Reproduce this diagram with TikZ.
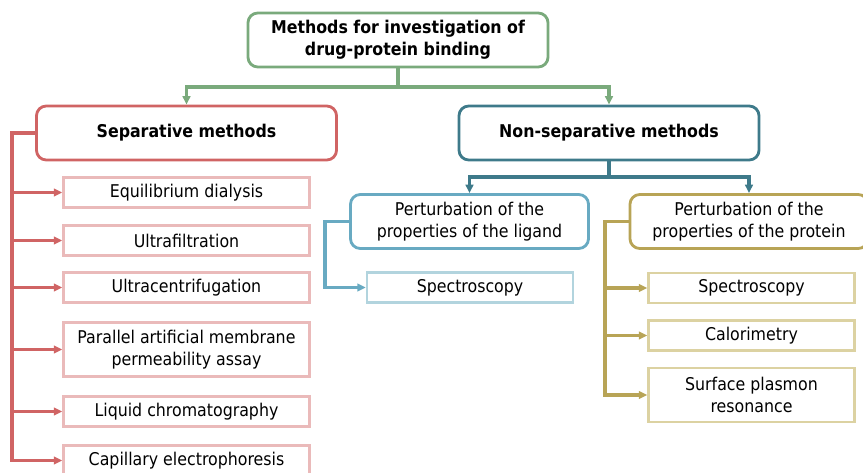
\documentclass[tikz,border=0pt]{standalone}
\usepackage{fontspec}
\setmainfont{DejaVu Sans Condensed}
\usetikzlibrary{arrows.meta}
\definecolor{topgreen}{RGB}{122,170,124}
\definecolor{sepred}{RGB}{208,100,100}
\definecolor{seppink}{RGB}{234,186,186}
\definecolor{nonteal}{RGB}{62,122,138}
\definecolor{ligblue}{RGB}{104,170,194}
\definecolor{ligpale}{RGB}{178,212,222}
\definecolor{protolive}{RGB}{184,164,86}
\definecolor{protpale}{RGB}{220,210,162}
\tikzset{
  headbox/.style={draw, rounded corners=7pt, line width=2pt, align=center,
    minimum width=7.5cm, minimum height=1.35cm,
    font=\fontsize{12.5}{15.5}\selectfont\bfseries},
  midbox/.style={draw, rounded corners=7pt, line width=2pt, align=center,
    minimum width=5.95cm, minimum height=1.35cm},
  leafbox/.style={draw, line width=1.8pt, align=center, minimum height=0.76cm},
  link/.style={line width=2.3pt, -{Triangle[length=6pt,width=5.5pt]}}
}
\begin{document}
\begin{tikzpicture}[x=0.025cm,y=-0.025cm,font=\fontsize{12.5}{15.5}\selectfont]
  \useasboundingbox (0,0) rectangle (863,473);
  % top level
  \node[headbox,topgreen,text=black] (top) at (398,40) {Methods for investigation of\\drug-protein binding};
  \node[headbox,sepred,text=black] (sep) at (186.5,133) {Separative methods};
  \node[headbox,nonteal,text=black] (nonsep) at (609,133) {Non-separative methods};
  \coordinate (gsplit) at (398,87);
  \draw[link,topgreen] (top.south) -- (gsplit) -| (sep.north);
  \draw[link,topgreen] (gsplit) -| (nonsep.north);
  % separative methods
  \node[leafbox,seppink,text=black,minimum width=6.15cm] (equi) at (186.5,192.5) {Equilibrium dialysis};
  \node[leafbox,seppink,text=black,minimum width=6.15cm] (ultrafil) at (186.5,240.5) {Ultrafiltration};
  \node[leafbox,seppink,text=black,minimum width=6.15cm] (ultracen) at (186.5,287.5) {Ultracentrifugation};
  \node[leafbox,seppink,text=black,minimum width=6.15cm,minimum height=1.36cm] (pampa) at (186.5,349.5) {Parallel artificial membrane\\permeability assay};
  \node[leafbox,seppink,text=black,minimum width=6.15cm] (liquid) at (186.5,411.5) {Liquid chromatography};
  \node[leafbox,seppink,text=black,minimum width=6.15cm] (capil) at (186.5,460.5) {Capillary electrophoresis};
  \coordinate (rtrunk) at (12,133);
  \foreach \n in {equi,ultrafil,ultracen,pampa,liquid,capil}
    \draw[link,sepred] (sep.west) -- (rtrunk) |- (\n.west);
  % non-separative methods
  \node[midbox,ligblue,text=black] (ligand) at (469.5,221.5) {Perturbation of the\\properties of the ligand};
  \node[midbox,protolive,text=black] (protein) at (749,221.5) {Perturbation of the\\properties of the protein};
  \coordinate (tsplit) at (609,177);
  \draw[link,nonteal] (nonsep.south) -- (tsplit) -| (ligand.north);
  \draw[link,nonteal] (tsplit) -| (protein.north);
  \node[leafbox,ligpale,text=black,minimum width=5.15cm] (ligspec) at (470,287.5) {Spectroscopy};
  \coordinate (btrunk) at (325,221.5);
  \draw[link,ligblue] (ligand.west) -- (btrunk) |- (ligspec.west);
  \node[leafbox,protpale,text=black,minimum width=5.15cm] (protspec) at (751.5,288) {Spectroscopy};
  \node[leafbox,protpale,text=black,minimum width=5.15cm] (calor) at (751.5,335.5) {Calorimetry};
  \node[leafbox,protpale,text=black,minimum width=5.15cm,minimum height=1.36cm] (spr) at (751.5,395) {Surface plasmon\\resonance};
  \coordinate (otrunk) at (605,221.5);
  \foreach \n in {protspec,calor,spr}
    \draw[link,protolive] (protein.west) -- (otrunk) |- (\n.west);
\end{tikzpicture}
\end{document}
